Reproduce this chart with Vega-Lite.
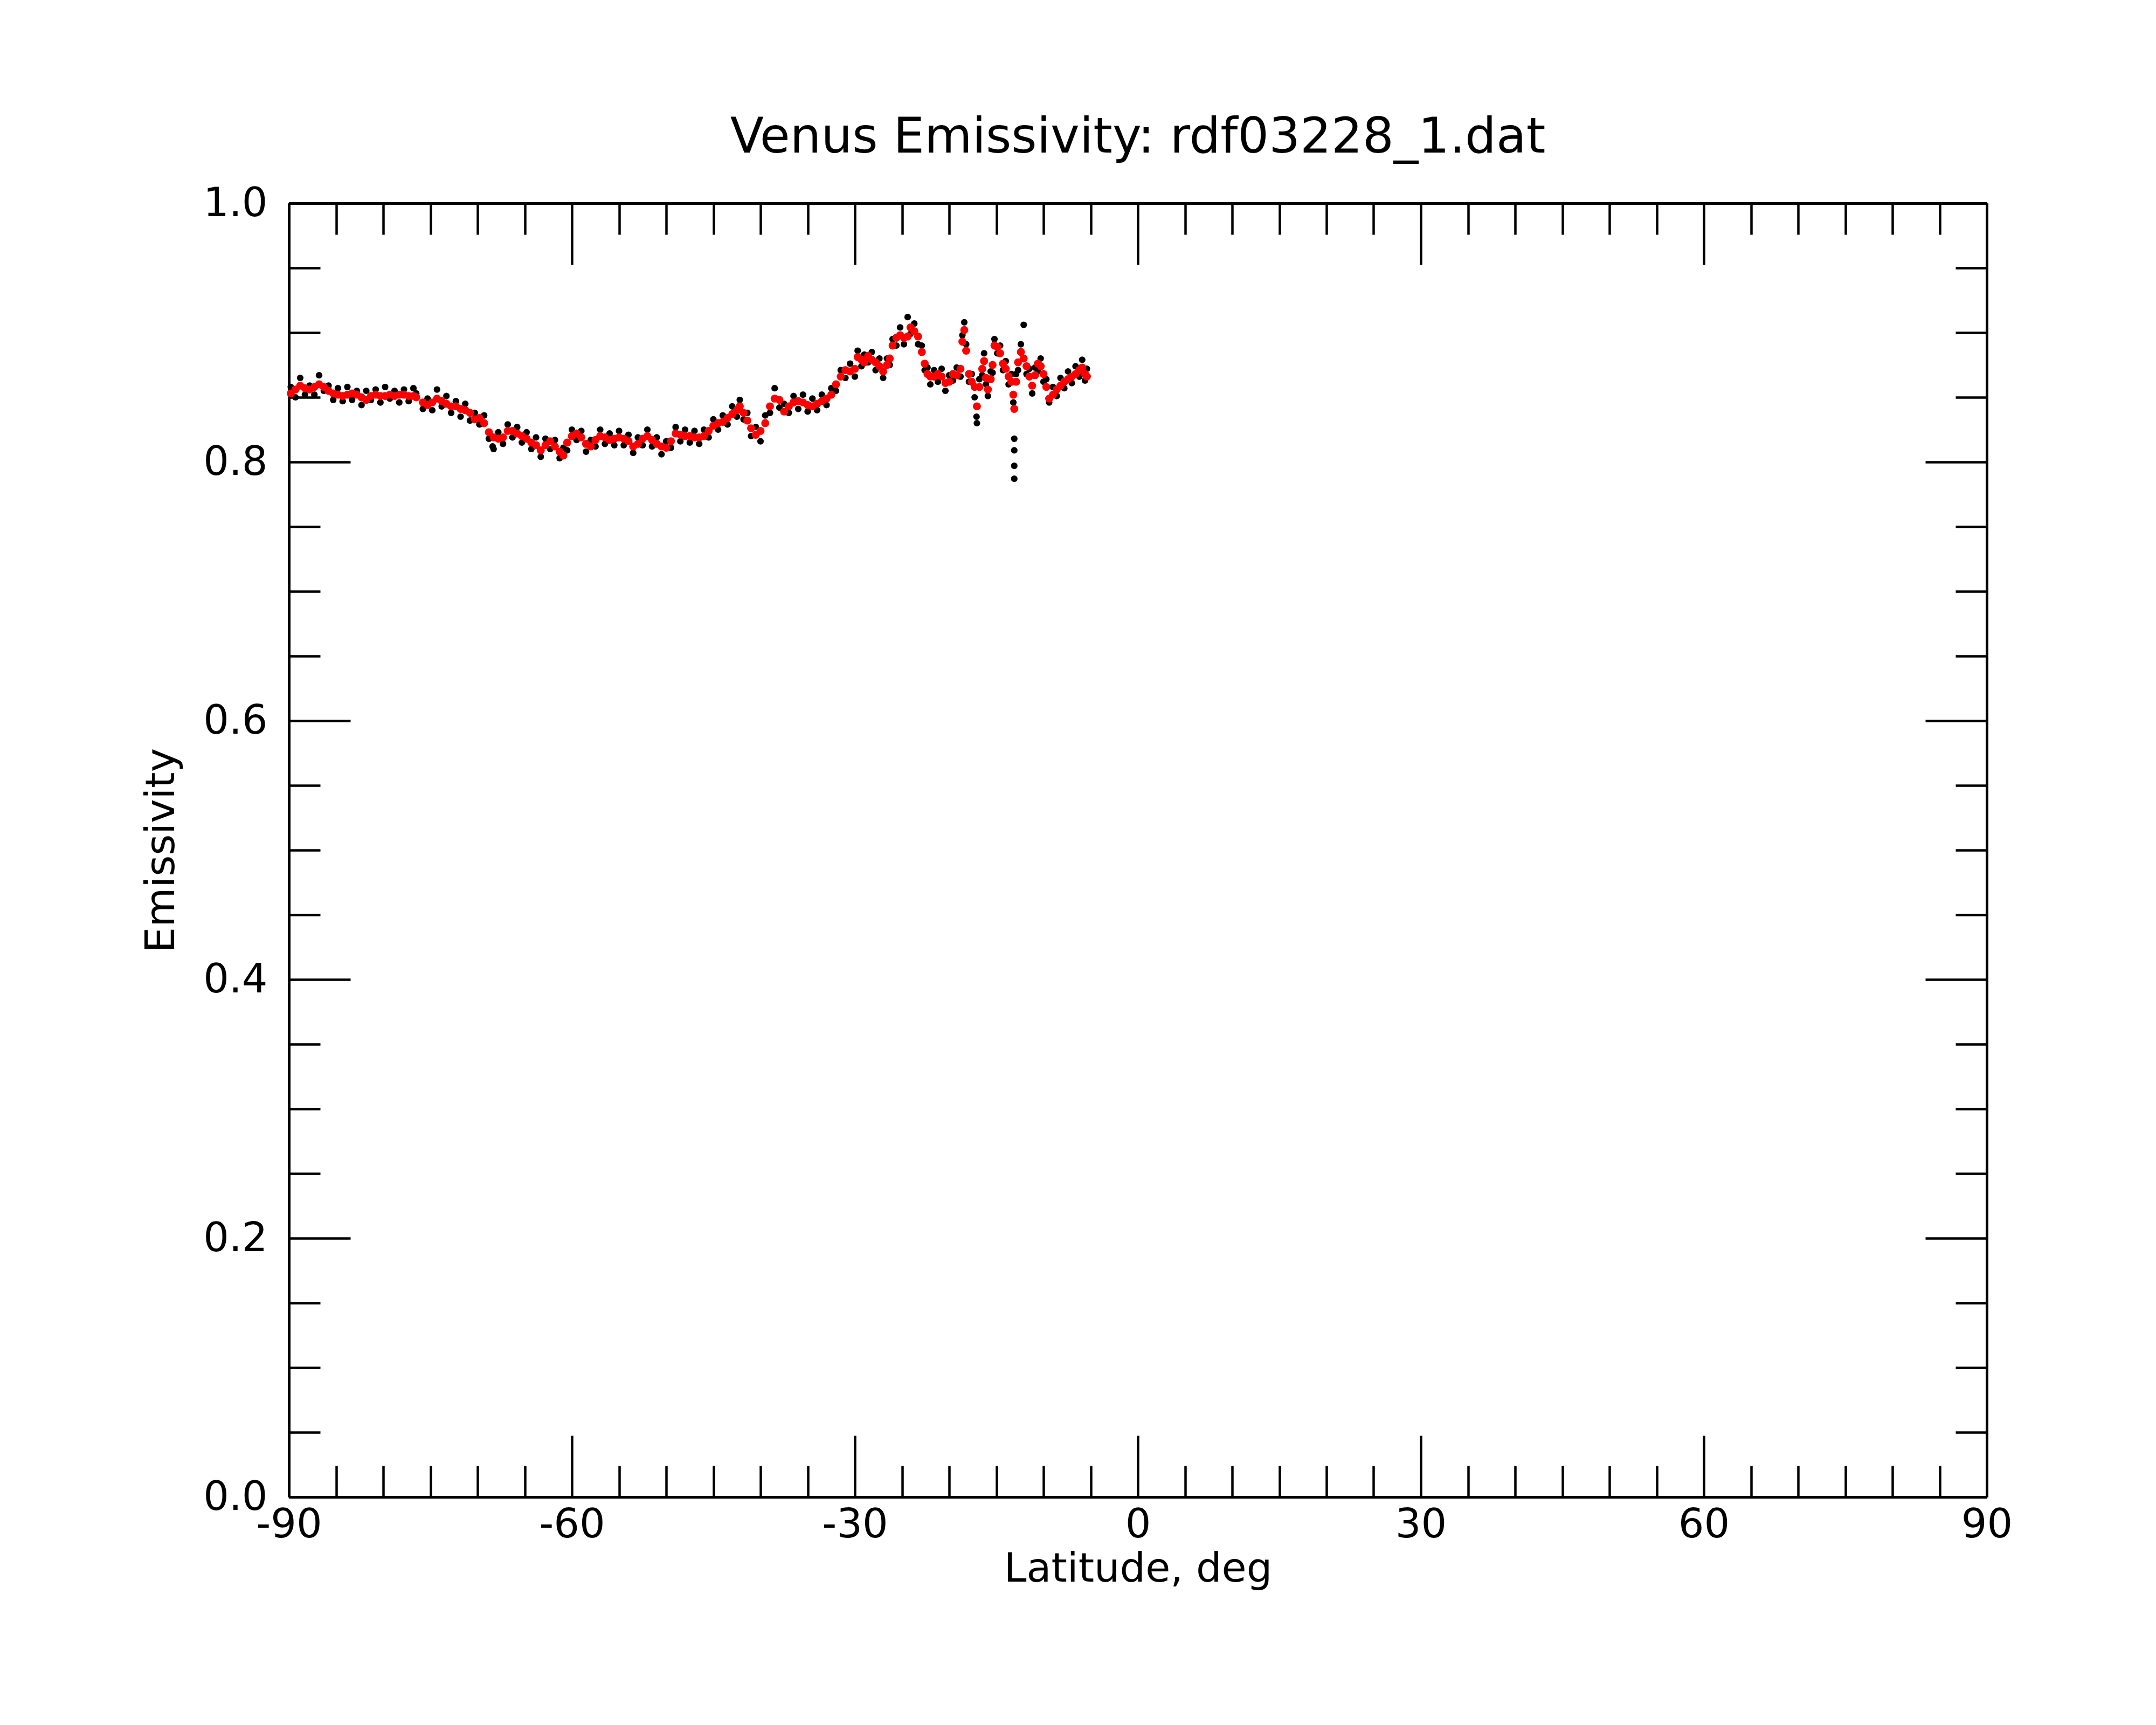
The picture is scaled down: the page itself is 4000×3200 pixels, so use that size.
{
  "$schema": "https://vega.github.io/schema/vega-lite/v6.json",
  "autosize": "none",
  "width": 3150,
  "height": 2400,
  "padding": {"left": 536, "top": 377, "right": 314, "bottom": 423},
  "background": "white",
  "title": {
    "text": "Venus Emissivity: rdf03228_1.dat",
    "font": "DejaVu Sans",
    "fontSize": 91,
    "fontWeight": "normal",
    "color": "black",
    "baseline": "alphabetic",
    "offset": -34,
    "anchor": "middle"
  },
  "config": {
    "view": {"stroke": null},
    "axis": {
      "grid": false,
      "domainColor": "black",
      "domainWidth": 5,
      "tickColor": "black",
      "tickWidth": 4.5,
      "labelFont": "DejaVu Sans",
      "labelFontSize": 75,
      "labelColor": "black",
      "labelFlush": false,
      "labelOverlap": false,
      "titleFont": "DejaVu Sans",
      "titleFontSize": 75,
      "titleFontWeight": "normal",
      "titleColor": "black"
    }
  },
  "data": {
    "values": [
      {"lat": -89.8, "e": 0.858, "s": 0.853},
      {"lat": -89.3, "e": 0.850, "s": 0.856},
      {"lat": -88.8, "e": 0.865, "s": 0.859},
      {"lat": -88.3, "e": 0.852, "s": 0.857},
      {"lat": -87.8, "e": 0.859, "s": 0.856},
      {"lat": -87.3, "e": 0.852, "s": 0.858},
      {"lat": -86.8, "e": 0.867, "s": 0.860},
      {"lat": -86.3, "e": 0.855, "s": 0.858},
      {"lat": -85.8, "e": 0.859, "s": 0.855},
      {"lat": -85.3, "e": 0.848, "s": 0.853},
      {"lat": -84.8, "e": 0.857, "s": 0.852},
      {"lat": -84.3, "e": 0.847, "s": 0.851},
      {"lat": -83.8, "e": 0.858, "s": 0.852},
      {"lat": -83.3, "e": 0.848, "s": 0.853},
      {"lat": -82.8, "e": 0.855, "s": 0.852},
      {"lat": -82.3, "e": 0.844, "s": 0.850},
      {"lat": -81.8, "e": 0.855, "s": 0.848},
      {"lat": -81.3, "e": 0.848, "s": 0.851},
      {"lat": -80.8, "e": 0.856, "s": 0.852},
      {"lat": -80.3, "e": 0.846, "s": 0.851},
      {"lat": -79.8, "e": 0.858, "s": 0.851},
      {"lat": -79.3, "e": 0.849, "s": 0.852},
      {"lat": -78.8, "e": 0.855, "s": 0.851},
      {"lat": -78.3, "e": 0.846, "s": 0.852},
      {"lat": -77.8, "e": 0.856, "s": 0.852},
      {"lat": -77.3, "e": 0.847, "s": 0.851},
      {"lat": -76.8, "e": 0.857, "s": 0.851},
      {"lat": -76.5, "e": 0.853, "s": 0.850},
      {"lat": -75.8, "e": 0.841, "s": 0.846},
      {"lat": -75.3, "e": 0.849, "s": 0.844},
      {"lat": -74.8, "e": 0.840, "s": 0.846},
      {"lat": -74.3, "e": 0.856, "s": 0.849},
      {"lat": -73.8, "e": 0.843, "s": 0.847},
      {"lat": -73.3, "e": 0.851, "s": 0.845},
      {"lat": -72.8, "e": 0.838, "s": 0.843},
      {"lat": -72.3, "e": 0.847, "s": 0.843},
      {"lat": -71.8, "e": 0.835, "s": 0.841},
      {"lat": -71.3, "e": 0.845, "s": 0.840},
      {"lat": -70.8, "e": 0.832, "s": 0.838},
      {"lat": -70.3, "e": 0.838, "s": 0.833},
      {"lat": -69.8, "e": 0.829, "s": 0.834},
      {"lat": -69.3, "e": 0.836, "s": 0.830},
      {"lat": -68.8, "e": 0.818, "s": 0.823},
      {"lat": -68.3, "e": 0.810, "s": 0.819},
      {"lat": -67.8, "e": 0.823, "s": 0.818},
      {"lat": -67.3, "e": 0.814, "s": 0.819},
      {"lat": -66.8, "e": 0.829, "s": 0.824},
      {"lat": -66.3, "e": 0.819, "s": 0.824},
      {"lat": -65.8, "e": 0.827, "s": 0.822},
      {"lat": -65.3, "e": 0.815, "s": 0.820},
      {"lat": -64.8, "e": 0.823, "s": 0.818},
      {"lat": -64.3, "e": 0.810, "s": 0.815},
      {"lat": -63.8, "e": 0.819, "s": 0.813},
      {"lat": -63.3, "e": 0.804, "s": 0.809},
      {"lat": -62.8, "e": 0.818, "s": 0.813},
      {"lat": -62.3, "e": 0.810, "s": 0.816},
      {"lat": -61.8, "e": 0.817, "s": 0.812},
      {"lat": -61.3, "e": 0.803, "s": 0.808},
      {"lat": -60.9, "e": 0.811, "s": 0.805},
      {"lat": -60.5, "e": 0.809, "s": 0.815},
      {"lat": -60.0, "e": 0.825, "s": 0.820},
      {"lat": -59.5, "e": 0.817, "s": 0.822},
      {"lat": -59.0, "e": 0.824, "s": 0.819},
      {"lat": -58.5, "e": 0.808, "s": 0.814},
      {"lat": -58.0, "e": 0.817, "s": 0.812},
      {"lat": -57.5, "e": 0.812, "s": 0.817},
      {"lat": -57.0, "e": 0.825, "s": 0.820},
      {"lat": -56.5, "e": 0.814, "s": 0.819},
      {"lat": -56.0, "e": 0.822, "s": 0.817},
      {"lat": -55.5, "e": 0.813, "s": 0.818},
      {"lat": -55.0, "e": 0.824, "s": 0.819},
      {"lat": -54.5, "e": 0.813, "s": 0.818},
      {"lat": -54.0, "e": 0.821, "s": 0.816},
      {"lat": -53.5, "e": 0.807, "s": 0.812},
      {"lat": -53.0, "e": 0.819, "s": 0.814},
      {"lat": -52.5, "e": 0.813, "s": 0.818},
      {"lat": -52.0, "e": 0.825, "s": 0.820},
      {"lat": -51.5, "e": 0.812, "s": 0.817},
      {"lat": -51.0, "e": 0.819, "s": 0.814},
      {"lat": -50.5, "e": 0.806, "s": 0.812},
      {"lat": -50.0, "e": 0.816, "s": 0.811},
      {"lat": -49.5, "e": 0.811, "s": 0.816},
      {"lat": -49.0, "e": 0.827, "s": 0.822},
      {"lat": -48.5, "e": 0.816, "s": 0.821},
      {"lat": -48.0, "e": 0.825, "s": 0.820},
      {"lat": -47.5, "e": 0.815, "s": 0.820},
      {"lat": -47.0, "e": 0.824, "s": 0.819},
      {"lat": -46.5, "e": 0.814, "s": 0.819},
      {"lat": -46.0, "e": 0.825, "s": 0.820},
      {"lat": -45.5, "e": 0.819, "s": 0.824},
      {"lat": -45.0, "e": 0.833, "s": 0.828},
      {"lat": -44.5, "e": 0.825, "s": 0.830},
      {"lat": -44.0, "e": 0.836, "s": 0.831},
      {"lat": -43.5, "e": 0.829, "s": 0.834},
      {"lat": -43.0, "e": 0.843, "s": 0.837},
      {"lat": -42.5, "e": 0.835, "s": 0.840},
      {"lat": -42.2, "e": 0.848, "s": 0.843},
      {"lat": -41.8, "e": 0.833, "s": 0.838},
      {"lat": -41.4, "e": 0.838, "s": 0.832},
      {"lat": -41.0, "e": 0.820, "s": 0.826},
      {"lat": -40.5, "e": 0.827, "s": 0.821},
      {"lat": -40.0, "e": 0.816, "s": 0.824},
      {"lat": -39.5, "e": 0.836, "s": 0.830},
      {"lat": -39.0, "e": 0.838, "s": 0.843},
      {"lat": -38.5, "e": 0.857, "s": 0.849},
      {"lat": -38.0, "e": 0.842, "s": 0.848},
      {"lat": -37.5, "e": 0.845, "s": 0.839},
      {"lat": -37.0, "e": 0.838, "s": 0.843},
      {"lat": -36.5, "e": 0.851, "s": 0.846},
      {"lat": -36.0, "e": 0.841, "s": 0.847},
      {"lat": -35.5, "e": 0.852, "s": 0.846},
      {"lat": -35.0, "e": 0.839, "s": 0.844},
      {"lat": -34.5, "e": 0.849, "s": 0.843},
      {"lat": -34.0, "e": 0.840, "s": 0.845},
      {"lat": -33.5, "e": 0.852, "s": 0.847},
      {"lat": -33.0, "e": 0.844, "s": 0.849},
      {"lat": -32.5, "e": 0.857, "s": 0.852},
      {"lat": -32.0, "e": 0.855, "s": 0.860},
      {"lat": -31.5, "e": 0.871, "s": 0.866},
      {"lat": -31.0, "e": 0.865, "s": 0.871},
      {"lat": -30.5, "e": 0.876, "s": 0.870},
      {"lat": -30.0, "e": 0.866, "s": 0.872},
      {"lat": -29.7, "e": 0.886, "s": 0.881},
      {"lat": -29.3, "e": 0.874, "s": 0.879},
      {"lat": -29.0, "e": 0.883, "s": 0.877},
      {"lat": -28.6, "e": 0.877, "s": 0.882},
      {"lat": -28.2, "e": 0.885, "s": 0.879},
      {"lat": -27.8, "e": 0.871, "s": 0.877},
      {"lat": -27.4, "e": 0.880, "s": 0.874},
      {"lat": -27.0, "e": 0.865, "s": 0.870},
      {"lat": -26.6, "e": 0.880, "s": 0.875},
      {"lat": -26.3, "e": 0.875, "s": 0.880},
      {"lat": -26.0, "e": 0.895, "s": 0.890},
      {"lat": -25.6, "e": 0.890, "s": 0.896},
      {"lat": -25.2, "e": 0.904, "s": 0.898},
      {"lat": -24.8, "e": 0.891, "s": 0.896},
      {"lat": -24.4, "e": 0.912, "s": 0.897},
      {"lat": -24.1, "e": 0.899, "s": 0.904},
      {"lat": -23.7, "e": 0.907, "s": 0.901},
      {"lat": -23.3, "e": 0.891, "s": 0.897},
      {"lat": -22.9, "e": 0.890, "s": 0.885},
      {"lat": -22.6, "e": 0.871, "s": 0.876},
      {"lat": -22.3, "e": 0.873, "s": 0.868},
      {"lat": -22.0, "e": 0.860, "s": 0.866},
      {"lat": -21.6, "e": 0.871, "s": 0.866},
      {"lat": -21.2, "e": 0.862, "s": 0.868},
      {"lat": -20.8, "e": 0.872, "s": 0.866},
      {"lat": -20.4, "e": 0.855, "s": 0.861},
      {"lat": -20.0, "e": 0.867, "s": 0.862},
      {"lat": -19.6, "e": 0.863, "s": 0.868},
      {"lat": -19.2, "e": 0.873, "s": 0.867},
      {"lat": -18.8, "e": 0.866, "s": 0.872},
      {"lat": -18.6, "e": 0.898, "s": 0.893},
      {"lat": -18.4, "e": 0.908, "s": 0.902},
      {"lat": -18.2, "e": 0.891, "s": 0.886},
      {"lat": -17.9, "e": 0.862, "s": 0.868},
      {"lat": -17.6, "e": 0.868, "s": 0.862},
      {"lat": -17.3, "e": 0.850, "s": 0.858},
      {"lat": -17.06, "e": 0.830, "s": 0.843},
      {"lat": -16.8, "e": 0.864, "s": 0.858},
      {"lat": -16.5, "e": 0.867, "s": 0.872},
      {"lat": -16.3, "e": 0.884, "s": 0.878},
      {"lat": -16.1, "e": 0.860, "s": 0.865},
      {"lat": -15.9, "e": 0.851, "s": 0.856},
      {"lat": -15.6, "e": 0.870, "s": 0.864},
      {"lat": -15.4, "e": 0.869, "s": 0.875},
      {"lat": -15.2, "e": 0.895, "s": 0.890},
      {"lat": -14.9, "e": 0.884, "s": 0.889},
      {"lat": -14.6, "e": 0.890, "s": 0.884},
      {"lat": -14.3, "e": 0.871, "s": 0.876},
      {"lat": -14.0, "e": 0.878, "s": 0.872},
      {"lat": -13.7, "e": 0.860, "s": 0.866},
      {"lat": -13.4, "e": 0.868, "s": 0.862},
      {"lat": -13.2, "e": 0.846, "s": 0.852},
      {"lat": -13.1, "e": 0.818, "s": 0.841},
      {"lat": -12.9, "e": 0.868, "s": 0.862},
      {"lat": -12.7, "e": 0.871, "s": 0.877},
      {"lat": -12.4, "e": 0.891, "s": 0.885},
      {"lat": -12.1, "e": 0.906, "s": 0.880},
      {"lat": -11.8, "e": 0.868, "s": 0.874},
      {"lat": -11.5, "e": 0.872, "s": 0.866},
      {"lat": -11.2, "e": 0.853, "s": 0.859},
      {"lat": -10.9, "e": 0.873, "s": 0.867},
      {"lat": -10.6, "e": 0.870, "s": 0.876},
      {"lat": -10.3, "e": 0.880, "s": 0.874},
      {"lat": -10.0, "e": 0.862, "s": 0.868},
      {"lat": -9.7, "e": 0.864, "s": 0.858},
      {"lat": -9.4, "e": 0.846, "s": 0.849},
      {"lat": -9.0, "e": 0.858, "s": 0.852},
      {"lat": -8.6, "e": 0.851, "s": 0.856},
      {"lat": -8.2, "e": 0.865, "s": 0.859},
      {"lat": -7.8, "e": 0.857, "s": 0.862},
      {"lat": -7.4, "e": 0.870, "s": 0.864},
      {"lat": -7.0, "e": 0.861, "s": 0.866},
      {"lat": -6.6, "e": 0.874, "s": 0.868},
      {"lat": -6.2, "e": 0.866, "s": 0.871},
      {"lat": -5.9, "e": 0.879, "s": 0.873},
      {"lat": -5.6, "e": 0.863, "s": 0.868},
      {"lat": -5.4, "e": 0.872, "s": 0.866},
      {"lat": -13.1, "e": 0.809},
      {"lat": -13.1, "e": 0.797},
      {"lat": -13.1, "e": 0.787},
      {"lat": -17.1, "e": 0.835},
      {"lat": -68.4, "e": 0.812}
    ]
  },
  "layer": [
    {
      "mark": {"type": "point", "filled": true, "color": "black", "opacity": 1, "size": 150},
      "encoding": {
        "x": {
          "field": "lat",
          "type": "quantitative",
          "scale": {"domain": [-90, 90], "nice": false, "zero": false},
          "axis": {
            "orient": "bottom",
            "values": [-90, -60, -30, 0, 30, 60, 90],
            "tickSize": -114,
            "labelPadding": 129,
            "labelExpr": "'' + datum.value",
            "title": "Latitude, deg",
            "titlePadding": 8
          }
        },
        "y": {
          "field": "e",
          "type": "quantitative",
          "scale": {"domain": [0, 1], "nice": false},
          "axis": {
            "orient": "left",
            "values": [0, 0.2, 0.4, 0.6, 0.8, 1.0],
            "tickSize": -114,
            "labelPadding": 154,
            "format": ".1f",
            "title": "Emissivity",
            "titlePadding": 38
          }
        }
      }
    },
    {
      "mark": {"type": "point", "filled": true, "color": "#ff0000", "opacity": 1, "size": 220},
      "encoding": {
        "x": {
          "field": "lat",
          "type": "quantitative",
          "scale": {"domain": [-90, 90], "nice": false, "zero": false},
          "axis": {
            "orient": "top",
            "values": [-90, -60, -30, 0, 30, 60, 90],
            "tickSize": -114,
            "labels": false,
            "title": null
          }
        },
        "y": {
          "field": "s",
          "type": "quantitative",
          "scale": {"domain": [0, 1], "nice": false},
          "axis": {
            "orient": "right",
            "values": [0, 0.2, 0.4, 0.6, 0.8, 1.0],
            "tickSize": -114,
            "labels": false,
            "title": null
          }
        }
      }
    },
    {
      "mark": {"type": "point", "opacity": 0},
      "encoding": {
        "x": {
          "field": "lat",
          "type": "quantitative",
          "scale": {"domain": [-90, 90], "nice": false, "zero": false},
          "axis": {
            "orient": "bottom",
            "values": [-85, -80, -75, -70, -65, -55, -50, -45, -40, -35, -25, -20, -15, -10, -5, 5, 10, 15, 20, 25, 35, 40, 45, 50, 55, 65, 70, 75, 80, 85],
            "tickSize": -58,
            "labels": false,
            "title": null
          }
        },
        "y": {
          "field": "s",
          "type": "quantitative",
          "scale": {"domain": [0, 1], "nice": false},
          "axis": {
            "orient": "left",
            "values": [0.05, 0.1, 0.15, 0.25, 0.3, 0.35, 0.45, 0.5, 0.55, 0.65, 0.7, 0.75, 0.85, 0.9, 0.95],
            "tickSize": -58,
            "labels": false,
            "title": null
          }
        }
      }
    },
    {
      "mark": {"type": "point", "opacity": 0},
      "encoding": {
        "x": {
          "field": "lat",
          "type": "quantitative",
          "scale": {"domain": [-90, 90], "nice": false, "zero": false},
          "axis": {
            "orient": "top",
            "values": [-85, -80, -75, -70, -65, -55, -50, -45, -40, -35, -25, -20, -15, -10, -5, 5, 10, 15, 20, 25, 35, 40, 45, 50, 55, 65, 70, 75, 80, 85],
            "tickSize": -58,
            "labels": false,
            "title": null
          }
        },
        "y": {
          "field": "s",
          "type": "quantitative",
          "scale": {"domain": [0, 1], "nice": false},
          "axis": {
            "orient": "right",
            "values": [0.05, 0.1, 0.15, 0.25, 0.3, 0.35, 0.45, 0.5, 0.55, 0.65, 0.7, 0.75, 0.85, 0.9, 0.95],
            "tickSize": -58,
            "labels": false,
            "title": null
          }
        }
      }
    }
  ],
  "resolve": {"axis": {"x": "independent", "y": "independent"}}
}
